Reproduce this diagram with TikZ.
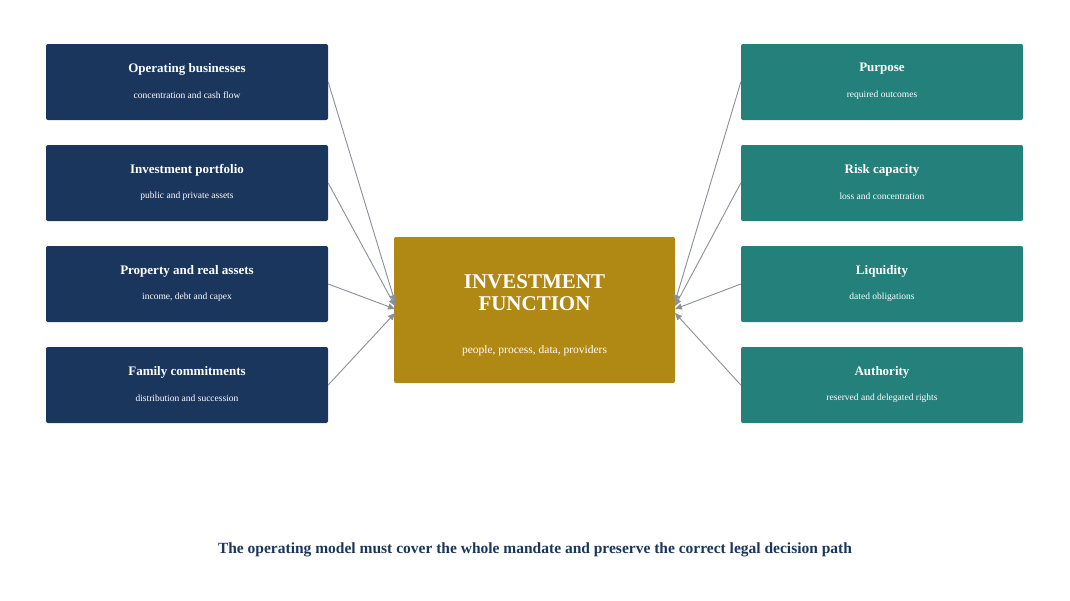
\documentclass[tikz,border=0pt]{standalone}
\usepackage{fontspec}
\setmainfont{Liberation Serif}
\usetikzlibrary{arrows.meta}
\definecolor{navy}{HTML}{1B365D}
\definecolor{teal2}{HTML}{23807A}
\definecolor{gold}{HTML}{B08814}
\definecolor{conn}{HTML}{8A8F9A}
\begin{document}
\begin{tikzpicture}[x=1pt,y=-1pt,
  box/.style={rounded corners=2pt,minimum width=282pt,minimum height=76pt,inner sep=0pt,text=white,align=center},
  lbox/.style={box,fill=navy},
  rbox/.style={box,fill=teal2},
  ttl/.style={font=\bfseries\fontsize{13}{15}\selectfont},
  sub/.style={font=\fontsize{9.5}{11}\selectfont},
  arr/.style={draw=conn,line width=0.9pt,-{Triangle[length=7pt,width=6pt]}}]
\useasboundingbox[fill=white] (0,0) rectangle (1070,600);
\foreach \n/\y/\t/\s in {L1/82/Operating businesses/concentration and cash flow,
  L2/183/Investment portfolio/public and private assets,
  L3/284/Property and real assets/{income, debt and capex},
  L4/385/Family commitments/distribution and succession}{
  \node[lbox] (\n) at (187,\y) {};
  \node[ttl,text=white] at (187,\y-13) {\t};
  \node[sub,text=white] at (187,\y+13) {\s};
}
\foreach \n/\y/\t/\s in {R1/82/Purpose/required outcomes,
  R2/183/Risk capacity/loss and concentration,
  R3/284/Liquidity/dated obligations,
  R4/385/Authority/reserved and delegated rights}{
  \node[rbox] (\n) at (882,\y) {};
  \node[ttl,text=white] at (882,\y-13) {\t};
  \node[sub,text=white] at (882,\y+13) {\s};
}
\node[fill=gold,rounded corners=2pt,minimum width=281pt,minimum height=146pt,inner sep=0pt] (C) at (534.5,310) {};
\node[text=white,align=center,font=\bfseries\fontsize{21}{22}\selectfont] at (534.5,293) {INVESTMENT\\FUNCTION};
\node[text=white,font=\fontsize{11.5}{13}\selectfont] at (534.5,351) {people, process, data, providers};
\coordinate (cl1) at (395,302); \coordinate (cl2) at (395,306);
\coordinate (cl3) at (395,309); \coordinate (cl4) at (395,313);
\coordinate (cr1) at (675,302); \coordinate (cr2) at (675,306);
\coordinate (cr3) at (675,309); \coordinate (cr4) at (675,313);
\foreach \i in {1,2,3,4}{
  \draw[arr] (L\i.east) -- (cl\i);
  \draw[arr] (R\i.west) -- (cr\i);
}
\node[text=navy,font=\bfseries\fontsize{15.5}{17}\selectfont] (cap) at (535,550) {The operating model must cover the whole mandate and preserve the correct legal decision path};
\end{tikzpicture}
\end{document}
